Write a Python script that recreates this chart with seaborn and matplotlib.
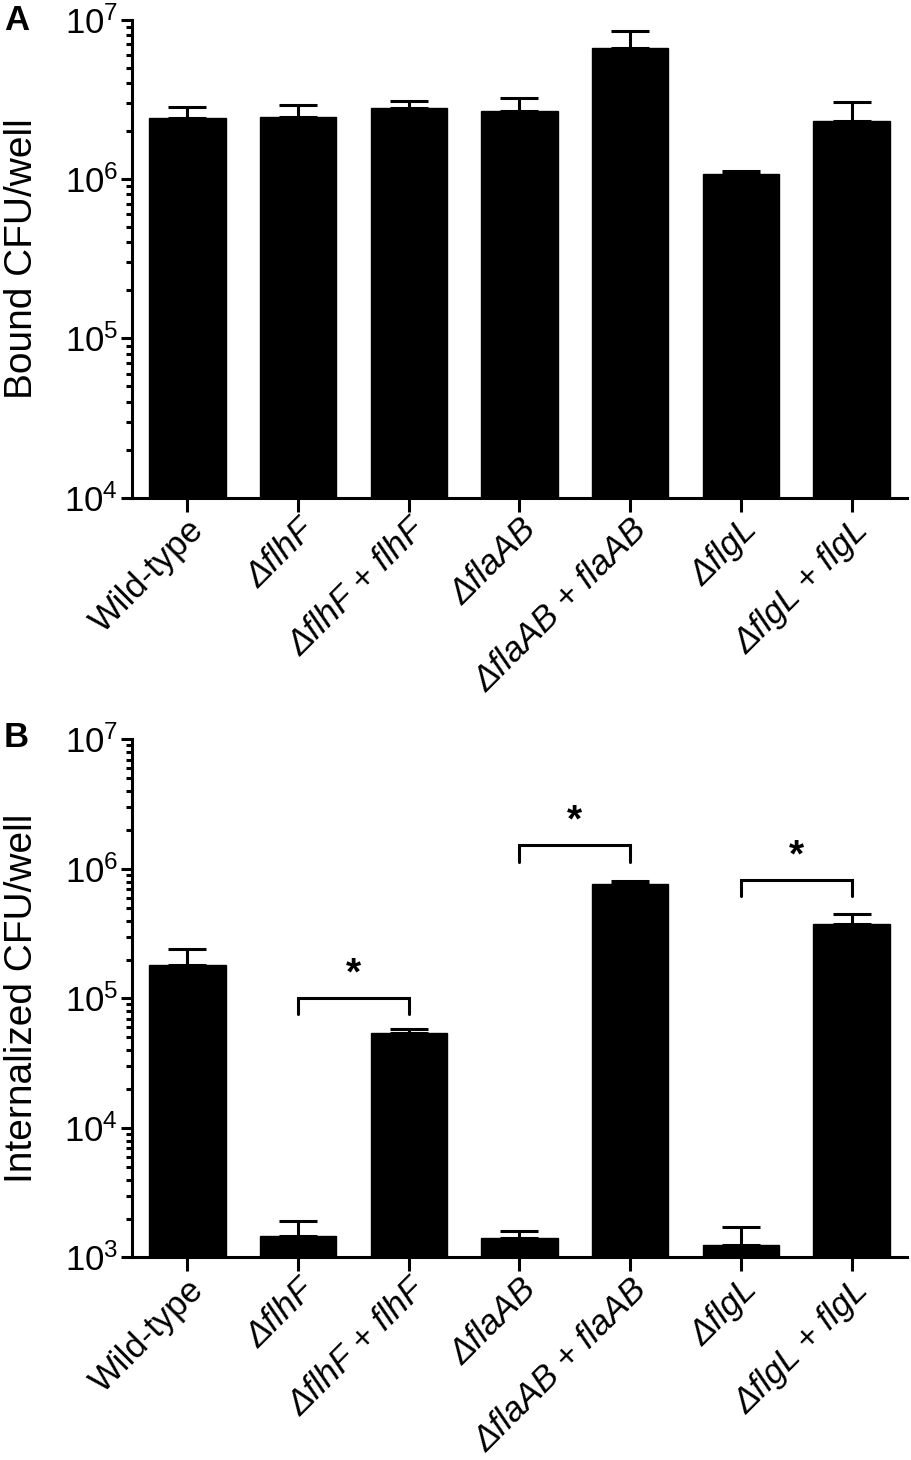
import matplotlib
matplotlib.use("Agg")
import matplotlib.pyplot as plt
import matplotlib.ticker as mticker
import numpy as np
import pandas as pd
import seaborn as sns

# strains on the x axis (same for both panels)
strains = [
    "Wild-type",
    "ΔflhF",
    "ΔflhF + flhF",
    "ΔflaAB",
    "ΔflaAB + flaAB",
    "ΔflgL",
    "ΔflgL + flgL",
]

# panel A: bound CFU/well (mean and mean + SEM)
bound_mean = [2.40e6, 2.45e6, 2.77e6, 2.67e6, 6.64e6, 1.08e6, 2.31e6]
bound_upper = [2.81e6, 2.89e6, 3.09e6, 3.23e6, 8.49e6, 1.12e6, 3.03e6]

# panel B: internalized CFU/well
internal_mean = [1.83e5, 1.46e3, 5.42e4, 1.41e3, 7.67e5, 1.25e3, 3.79e5]
internal_upper = [2.40e5, 1.91e3, 5.80e4, 1.60e3, 8.09e5, 1.73e3, 4.53e5]

# significance brackets in panel B (pairs of strain indices, bracket level)
sig_pairs = [(1, 2), (3, 4), (5, 6)]
sig_levels = [1.01e5, 1.52e6, 8.2e5]

sns.set_theme(style="ticks")
plt.rcParams["font.family"] = ["Liberation Sans", "DejaVu Sans"]
plt.rcParams["mathtext.fontset"] = "custom"
plt.rcParams["mathtext.rm"] = "Liberation Sans"
plt.rcParams["mathtext.it"] = "Liberation Sans:italic"
for key in ("text.color", "axes.labelcolor", "xtick.color", "ytick.color",
            "axes.edgecolor"):
    plt.rcParams[key] = "black"

LW = 2.2


def draw_panel(ax, means, upper, ylabel, ylim):
    df = pd.DataFrame({"strain": strains, "cfu": means})
    sns.barplot(data=df, x="strain", y="cfu", color="black", width=0.69,
                saturation=1, edgecolor="black", linewidth=1, ax=ax, zorder=2)
    x = np.arange(len(strains))
    m = np.array(means)
    err = np.array(upper) - m
    ax.errorbar(x, m, yerr=[np.zeros_like(err), err], fmt="none",
                ecolor="black", elinewidth=LW, capsize=13.5, capthick=LW,
                zorder=1)
    ax.set_yscale("log")
    ax.set_ylim(*ylim)
    ax.set_xlim(-0.5, 6.5)
    ax.yaxis.set_major_locator(mticker.LogLocator(base=10))
    ax.yaxis.set_major_formatter(
        mticker.FuncFormatter(lambda v, p: r"$10^{%d}$" % round(np.log10(v))))
    ax.yaxis.set_minor_locator(mticker.LogLocator(base=10, subs=np.arange(2, 10)))
    ax.yaxis.set_minor_formatter(mticker.NullFormatter())
    ax.tick_params(axis="y", which="major", length=8, width=LW, labelsize=25, pad=2)
    ax.tick_params(axis="y", which="minor", length=4.5, width=LW)
    ax.tick_params(axis="x", which="major", length=10, width=LW, labelsize=25, pad=1)
    ax.set_xticks(x)
    ax.set_xticklabels(strains, rotation=45, ha="right", va="top",
                       rotation_mode="anchor")
    for lab in ax.get_xticklabels():
        if lab.get_text().startswith("Δ"):
            lab.set_fontstyle("italic")
    ax.set_xlabel("")
    ax.set_ylabel(ylabel, fontsize=28)
    ax.yaxis.set_label_coords(-0.119, 0.5)
    sns.despine(ax=ax)
    for side in ("left", "bottom"):
        ax.spines[side].set_linewidth(LW)


fig = plt.figure(figsize=(9.12, 14.6), dpi=100)
ax_a = fig.add_axes([0.1447, 0.6592, 0.8498, 0.3274])
ax_b = fig.add_axes([0.1447, 0.1387, 0.8498, 0.3548])

draw_panel(ax_a, bound_mean, bound_upper, "Bound CFU/well", (1e4, 1e7))
draw_panel(ax_b, internal_mean, internal_upper, "Internalized CFU/well", (1e3, 1e7))

# significance brackets
for (i, j), level in zip(sig_pairs, sig_levels):
    leg = level * 0.75
    ax_b.plot([i, i, j, j], [leg, level, level, leg], color="black", lw=LW,
              solid_joinstyle="miter", zorder=3)
    ax_b.annotate("*", xy=((i + j) / 2, level), xytext=(0, 10),
                  textcoords="offset points", ha="center", va="baseline",
                  fontsize=28, fontweight="bold")

fig.text(0.004, 0.997, "A", fontsize=25, fontweight="bold", va="top", ha="left")
fig.text(0.004, 0.5065, "B", fontsize=25, fontweight="bold", va="top", ha="left")

fig.savefig("out.png", dpi=100)
